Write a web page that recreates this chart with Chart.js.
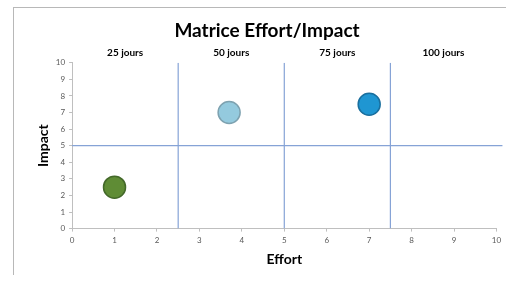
<!DOCTYPE html>
<html>
<head>
<meta charset="utf-8">
<script src="https://cdn.jsdelivr.net/npm/chart.js@4/dist/chart.umd.min.js"></script>
<style>
  html, body { margin: 0; padding: 0; background: #fff; }
  #wrap { position: relative; width: 506px; height: 283px; overflow: hidden; }
  #frame {
    position: absolute; left: 13px; top: 7px; right: -2px; bottom: 8px;
    border-left: 1px solid #b8b8b8; border-top: 1px solid #b8b8b8;
    pointer-events: none;
  }
  canvas { position: absolute; left: 0; top: 0; }
</style>
</head>
<body>
<div id="wrap">
  <canvas id="chart" width="509" height="283"></canvas>
  <div id="frame"></div>
</div>
<script>
// data
const efforts = [1, 3.7, 7];
const impacts = [2.5, 7, 7.5];
const effortSplits = [2.5, 5, 7.5];
const impactSplit = 5;
const columnCenters = [1.25, 3.75, 6.25, 8.75];
const columnLabels = ['25 jours', '50 jours', '75 jours', '100 jours'];
const axisTicks = [0, 1, 2, 3, 4, 5, 6, 7, 8, 9, 10];

const bubbleFill = ['#5f8c35', '#94cade', '#1f96d2'];
const bubbleStroke = ['#44692a', '#7ea2b0', '#1a6f9e'];
const lineColor = '#86a3d6';
const fontFam = 'Lato, "Open Sans", sans-serif';

function splitDatasets() {
  const sets = effortSplits.map((x) => ({
    type: 'line',
    data: [{ x: x, y: 0 }, { x: x, y: 10 }],
    borderColor: lineColor,
    borderWidth: 1.2,
    pointRadius: 0,
    fill: false,
    order: 2,
  }));
  sets.push({
    type: 'line',
    data: [{ x: 0, y: impactSplit }, { x: 10.14, y: impactSplit }],
    borderColor: lineColor,
    borderWidth: 1.2,
    pointRadius: 0,
    fill: false,
    clip: false,
    order: 2,
  });
  return sets;
}

const points = efforts.map((e, i) => ({ x: e, y: impacts[i] }));

new Chart(document.getElementById('chart'), {
  type: 'scatter',
  data: {
    datasets: [
      {
        data: points,
        backgroundColor: bubbleFill,
        borderColor: bubbleStroke,
        borderWidth: 1.5,
        pointRadius: 11,
        pointHoverRadius: 11,
        order: 1,
      },
      ...splitDatasets(),
    ],
  },
  options: {
    responsive: false,
    animation: false,
    events: [],
    layout: { padding: { top: 16, left: 35, right: 10, bottom: 15 } },
    plugins: {
      legend: { display: false },
      tooltip: { enabled: false },
      title: {
        display: true,
        text: 'Matrice Effort/Impact',
        color: '#000',
        font: { family: fontFam, size: 19, weight: 'bold' },
        padding: { top: 3, bottom: 1 },
      },
    },
    scales: {
      x: {
        type: 'linear',
        min: 0,
        max: 10,
        afterBuildTicks: (s) => { s.ticks = axisTicks.map((v) => ({ value: v })); },
        grid: { drawOnChartArea: false, drawTicks: true, tickLength: 3, color: '#bfbfbf' },
        border: { color: '#bfbfbf' },
        ticks: { color: '#595959', font: { family: fontFam, size: 8 }, padding: 4, maxRotation: 0 },
        title: {
          display: true,
          text: 'Effort',
          color: '#000',
          font: { family: fontFam, size: 14, weight: 'bold' },
          padding: { top: 2, bottom: 0 },
        },
      },
      x2: {
        type: 'linear',
        position: 'top',
        min: 0,
        max: 10,
        afterBuildTicks: (s) => { s.ticks = columnCenters.map((v) => ({ value: v })); },
        grid: { display: false, drawTicks: false },
        border: { display: false },
        ticks: {
          autoSkip: false,
          maxRotation: 0,
          color: '#000',
          font: { family: fontFam, size: 10, weight: 'bold' },
          padding: 4,
          callback: (v, i) => columnLabels[i],
        },
      },
      y: {
        type: 'linear',
        min: 0,
        max: 10,
        afterBuildTicks: (s) => { s.ticks = axisTicks.map((v) => ({ value: v })); },
        grid: { drawOnChartArea: false, drawTicks: true, tickLength: 3, color: '#bfbfbf' },
        border: { color: '#bfbfbf' },
        ticks: { color: '#595959', font: { family: fontFam, size: 8 }, padding: 4 },
        title: {
          display: true,
          text: 'Impact',
          color: '#000',
          font: { family: fontFam, size: 14, weight: 'bold' },
          padding: { top: 0, bottom: 0 },
        },
      },
    },
  },
});
</script>
</body>
</html>
